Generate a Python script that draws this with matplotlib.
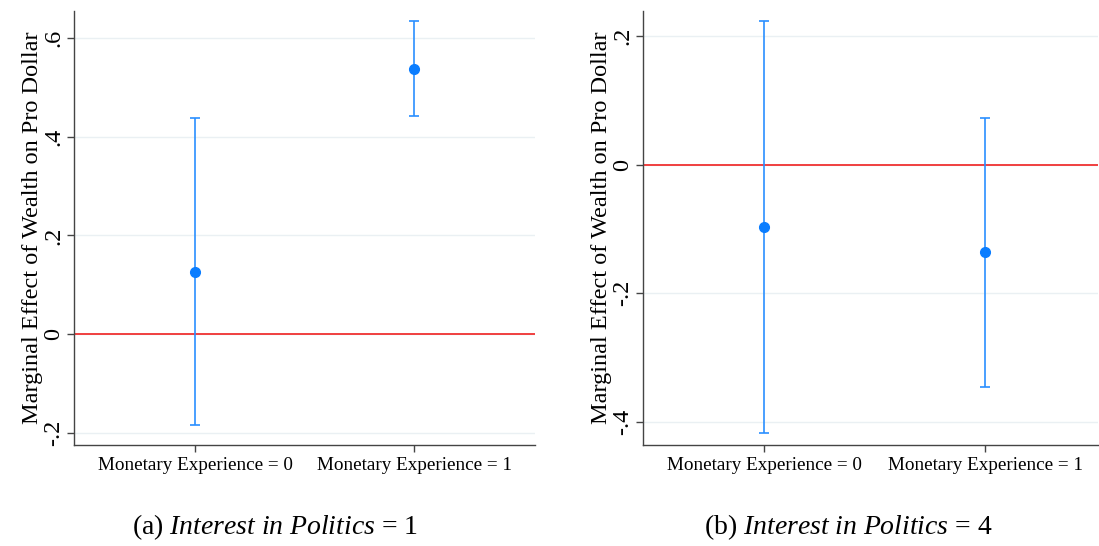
import matplotlib
matplotlib.use('Agg')
import matplotlib.pyplot as plt
import numpy as np

# data
cats = ['Monetary Experience = 0', 'Monetary Experience = 1']

est_a = [0.127, 0.537]
lo_a = [-0.184, 0.441]
hi_a = [0.437, 0.633]
ticks_a = [-0.2, 0, 0.2, 0.4, 0.6]
ticklab_a = ['-.2', '0', '.2', '.4', '.6']

est_b = [-0.097, -0.136]
lo_b = [-0.418, -0.346]
hi_b = [0.223, 0.073]
ticks_b = [-0.4, -0.2, 0, 0.2]
ticklab_b = ['-.4', '-.2', '0', '.2']

plt.rcParams['font.family'] = ['Liberation Serif', 'DejaVu Serif']
plt.rcParams['mathtext.fontset'] = 'custom'
plt.rcParams['mathtext.rm'] = 'Liberation Serif'
plt.rcParams['mathtext.it'] = 'Liberation Serif:italic'

fig = plt.figure(figsize=(10.99, 5.46), dpi=100)
ax1 = fig.add_axes([74/1099, 101/546, 461/1099, 434/546])
ax2 = fig.add_axes([643/1099, 101/546, 455/1099, 434/546])

line_col = '#2A8FFF'
pt_col = '#0A7DFF'


def panel(ax, est, lo, hi, ticks, ticklab, ylim, xlim):
    x = np.arange(len(cats))
    est = np.array(est)
    yerr = [est - np.array(lo), np.array(hi) - est]
    ax.axhline(0, color='#F03232', lw=1.3, zorder=2)
    ax.errorbar(x, est, yerr=yerr, fmt='none', ecolor=line_col,
                elinewidth=1.2, capsize=3.5, capthick=1.2, zorder=3)
    ax.plot(x, est, 'o', color=pt_col, ms=7, zorder=4)
    ax.set_xlim(xlim)
    ax.set_ylim(ylim)
    ax.set_yticks(ticks)
    ax.set_yticklabels(ticklab, rotation=90, va='center', fontsize=17.5)
    ax.set_xticks(x)
    ax.set_xticklabels(cats, fontsize=13.8)
    ax.grid(axis='y', color='#EAF0F3', lw=1.0, zorder=0)
    ax.set_axisbelow(True)
    for s in ['top', 'right']:
        ax.spines[s].set_visible(False)
    for s in ['left', 'bottom']:
        ax.spines[s].set_color('#444444')
        ax.spines[s].set_linewidth(1.0)
    ax.tick_params(axis='both', direction='out', length=5, color='#444444', width=1.0)
    ax.tick_params(axis='y', pad=2)
    ax.set_ylabel('Marginal Effect of Wealth on Pro Dollar', fontsize=17.5, labelpad=0)


panel(ax1, est_a, lo_a, hi_a, ticks_a, ticklab_a, (-0.2237, 0.654), (-0.5525, 1.5525))
panel(ax2, est_b, lo_b, hi_b, ticks_b, ticklab_b, (-0.436, 0.239), (-0.5475, 1.511))

fig.text(0.25, 0.035, r'(a) $\mathit{Interest\ in\ Politics}$ = 1', ha='center', va='center', fontsize=20)
fig.text(0.772, 0.035, r'(b) $\mathit{Interest\ in\ Politics}$ = 4', ha='center', va='center', fontsize=20)

fig.savefig('out.png', dpi=100)
